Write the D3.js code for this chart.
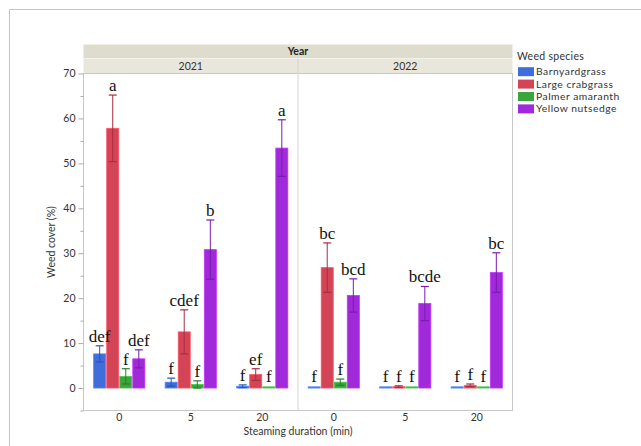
<!DOCTYPE html>
<html>
<head>
<meta charset="utf-8">
<script src="https://cdn.jsdelivr.net/npm/d3@7"></script>
<style>
  body { margin: 0; background: #fff; }
  svg { display: block; }
</style>
</head>
<body>
<svg id="chart" width="641" height="446"></svg>
<script>
// Weed cover (%) by year, steaming duration and species: mean ± SE, with letter groups
const years = ["2021", "2022"];
const durations = ["0", "5", "20"];
const species = ["Barnyardgrass", "Large crabgrass", "Palmer amaranth", "Yellow nutsedge"];
const colors = ["#3f6edb", "#d34456", "#3aa53c", "#a02ad9"];
const errColors = ["#2c55b0", "#a82e3e", "#2a7f2c", "#7a1cae"];

// means[year][duration][species]
const means2021 = [[7.6, 57.8, 2.6, 6.5], [1.3, 12.5, 0.8, 30.8], [0.4, 3.0, 0.05, 53.4]];
const means2022 = [[0.1, 26.8, 1.3, 20.6], [0.05, 0.3, 0.05, 18.8], [0.05, 0.6, 0.05, 25.7]];
const se2021 = [[1.8, 7.4, 1.7, 2.0], [0.9, 4.9, 0.8, 6.6], [0.3, 1.3, 0, 6.3]];
const se2022 = [[0, 5.5, 0.7, 3.7], [0, 0.2, 0, 3.8], [0, 0.3, 0, 4.4]];
const letters2021 = [["def", "a", "f", "def"], ["f", "cdef", "f", "b"], ["f", "ef", "f", "a"]];
const letters2022 = [["f", "bc", "f", "bcd"], ["f", "f", "f", "bcde"], ["f", "f", "f", "bc"]];
const yTicks = [0, 10, 20, 30, 40, 50, 60, 70];
const yMinorTicks = [-5, 5, 15, 25, 35, 45, 55, 65];

const means = [means2021, means2022];
const ses = [se2021, se2022];
const letters = [letters2021, letters2022];

const svg = d3.select("#chart");
const sans = "Lato, 'Open Sans', sans-serif";
const fs = 10.5;

// outer frame
svg.append("line").attr("x1", 9.5).attr("x2", 641).attr("y1", 9.5).attr("y2", 9.5)
  .attr("stroke", "#c4c4c4");
svg.append("line").attr("x1", 9.5).attr("x2", 9.5).attr("y1", 9.5).attr("y2", 446)
  .attr("stroke", "#c4c4c4");

const plotL = 83.5, plotR = 512.5, plotT = 73.5, plotB = 410.5;
const headT = 44.5, headMid = 58.5;

const y = d3.scaleLinear().domain([-5, 70]).range([plotB, plotT]);
const xYear = d3.scaleBand().domain(years).range([plotL, plotR]);
const xDur = d3.scaleBand().domain(durations).range([0, xYear.bandwidth()]);
const xSp = d3.scaleBand().domain(species).range([0, xDur.bandwidth() * 0.73]);

// header bands
svg.append("rect").attr("x", plotL).attr("y", headT).attr("width", plotR - plotL)
  .attr("height", headMid - headT).attr("fill", "#dedccd");
svg.append("text").attr("x", (plotL + plotR) / 2).attr("y", headT + 10.5)
  .attr("text-anchor", "middle").attr("font-family", sans).attr("font-size", fs)
  .attr("font-weight", "bold").attr("fill", "#222").text("Year");
years.forEach(yr => {
  svg.append("rect").attr("x", xYear(yr)).attr("y", headMid).attr("width", xYear.bandwidth())
    .attr("height", plotT - headMid).attr("fill", "#e9e7dc");
  svg.append("text").attr("x", xYear(yr) + xYear.bandwidth() / 2).attr("y", headMid + 11)
    .attr("text-anchor", "middle").attr("font-family", sans).attr("font-size", fs)
    .attr("fill", "#333").text(yr);
});
svg.append("line").attr("x1", plotL).attr("x2", plotR).attr("y1", headMid).attr("y2", headMid)
  .attr("stroke", "#f4f3ec");

// plot frame and year divider
svg.append("rect").attr("x", plotL).attr("y", plotT).attr("width", plotR - plotL)
  .attr("height", plotB - plotT).attr("fill", "none").attr("stroke", "#c8c8c8");
svg.append("line").attr("x1", xYear("2022")).attr("x2", xYear("2022"))
  .attr("y1", headMid).attr("y2", plotB).attr("stroke", "#d4d4d4");

// y axis
const yAxis = d3.axisLeft(y).tickValues(yTicks).tickSize(5).tickPadding(3);
const gy = svg.append("g").attr("transform", `translate(${plotL},0)`).call(yAxis);
gy.select(".domain").remove();
gy.selectAll("line").attr("stroke", "#aaa");
gy.selectAll("text").attr("font-family", sans).attr("font-size", fs).attr("fill", "#333");
svg.append("g").attr("transform", `translate(${plotL},0)`)
  .call(d3.axisLeft(y).tickValues(yMinorTicks).tickSize(3).tickFormat(""))
  .call(g => g.select(".domain").remove())
  .selectAll("line").attr("stroke", "#aaa");

svg.append("text").attr("transform", `translate(55,${(plotT + plotB) / 2}) rotate(-90)`)
  .attr("text-anchor", "middle").attr("font-family", sans).attr("font-size", fs)
  .attr("fill", "#333").text("Weed cover (%)");

// x axis labels per year panel
years.forEach(yr => {
  const g = svg.append("g").attr("transform", `translate(${xYear(yr)},${plotB})`)
    .call(d3.axisBottom(xDur).tickSize(0).tickPadding(3));
  g.select(".domain").remove();
  g.selectAll("text").attr("font-family", sans).attr("font-size", fs).attr("fill", "#333");
});
svg.append("text").attr("x", (plotL + plotR) / 2).attr("y", 435)
  .attr("text-anchor", "middle").attr("font-family", sans).attr("font-size", fs)
  .attr("fill", "#333").text("Steaming duration (min)");

// bars and error bars
const labelSpots = [];
years.forEach((yr, yi) => {
  durations.forEach((dur, di) => {
    const gx = xYear(yr) + xDur(dur) + (xDur.bandwidth() - xSp.range()[1]) / 2;
    species.forEach((sp, si) => {
      const m = means[yi][di][si], e = ses[yi][di][si];
      const x0 = gx + xSp(sp), w = xSp.bandwidth(), cx = x0 + w / 2;
      const top = Math.min(y(m), y(0) - 1.2);
      svg.append("rect").attr("x", x0 + 0.5).attr("y", top)
        .attr("width", w - 1).attr("height", Math.max(y(0) - top, 1.2))
        .attr("fill", colors[si]).attr("stroke", d3.color(colors[si]).brighter(0.6))
        .attr("stroke-width", 0.8);
      let errTop = y(m);
      if (e > 0) {
        const hi = y(m + e), lo = y(Math.max(m - e, 0));
        errTop = hi;
        const ec = errColors[si];
        svg.append("line").attr("x1", cx).attr("x2", cx).attr("y1", hi).attr("y2", lo)
          .attr("stroke", ec).attr("stroke-width", 1);
        [hi, lo].forEach(v => svg.append("line").attr("x1", cx - 4).attr("x2", cx + 4)
          .attr("y1", v).attr("y2", v).attr("stroke", ec).attr("stroke-width", 1.2));
      }
      labelSpots.push({ x: cx, y: Math.min(errTop, y(0) - 2) - 4, t: letters[yi][di][si] });
    });
  });
});

// letter groups drawn on top of every bar
svg.append("g").selectAll("text").data(labelSpots).join("text")
  .attr("x", d => d.x).attr("y", d => d.y).attr("text-anchor", "middle")
  .attr("font-family", "'Liberation Serif', 'Times New Roman', serif")
  .attr("font-size", 17).attr("fill", "#111").text(d => d.t);

// legend
const lg = svg.append("g").attr("transform", "translate(517,0)");
lg.append("text").attr("x", 0).attr("y", 59.5).attr("font-family", sans).attr("font-size", fs)
  .attr("letter-spacing", 0.3).attr("fill", "#333").text("Weed species");
species.forEach((sp, i) => {
  const cy = 71.7 + i * 12.4;
  lg.append("rect").attr("x", 1).attr("y", cy - 4.5).attr("width", 16).attr("height", 9)
    .attr("fill", colors[i]);
  lg.append("text").attr("x", 19).attr("y", cy + 3.5).attr("font-family", sans)
    .attr("font-size", 10.3).attr("letter-spacing", 0.5).attr("fill", "#333").text(sp);
});
</script>
</body>
</html>
